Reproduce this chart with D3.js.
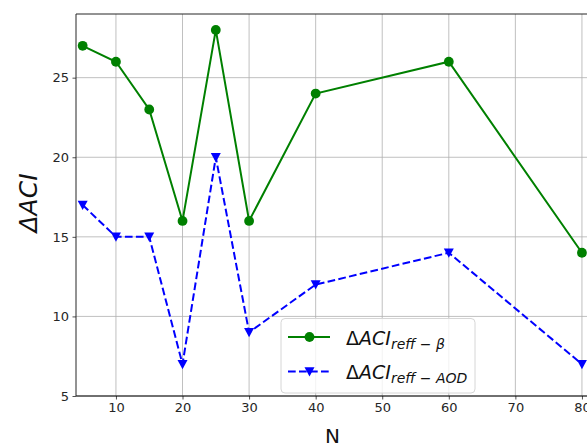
<!DOCTYPE html>
<html>
<head>
<meta charset="utf-8">
<script src="https://cdn.jsdelivr.net/npm/d3@7.9.0/dist/d3.min.js"></script>
<style>
  body { margin: 0; background: #fff; }
  svg { display: block; font-family: "DejaVu Sans", sans-serif; }
</style>
</head>
<body>
<svg id="chart" width="587" height="445"></svg>
<script>
const nValues = [5, 10, 15, 20, 25, 30, 40, 60, 80];
const aciBeta = [27, 26, 23, 16, 28, 16, 24, 26, 14];
const aciAod = [17, 15, 15, 7, 20, 9, 12, 14, 7];
const xTicks = [10, 20, 30, 40, 50, 60, 70, 80];
const yTicks = [5, 10, 15, 20, 25];

const svg = d3.select('#chart');
const plotLeft = 76, plotTop = 14, plotBottom = 396, plotRight = 588.6;

const x = d3.scaleLinear().domain([4, 81]).range([plotLeft, plotRight]);
const y = d3.scaleLinear().domain([5, 29]).range([plotBottom, plotTop]);

// grid
const grid = svg.append('g');
xTicks.forEach((t) => {
  grid.append('line')
    .attr('x1', x(t)).attr('x2', x(t))
    .attr('y1', plotTop).attr('y2', plotBottom)
    .attr('stroke', '#b0b0b0').attr('stroke-width', 0.8);
});
yTicks.forEach((t) => {
  grid.append('line')
    .attr('x1', plotLeft).attr('x2', plotRight)
    .attr('y1', y(t)).attr('y2', y(t))
    .attr('stroke', '#b0b0b0').attr('stroke-width', 0.8);
});

// axes
const xAxis = svg.append('g')
  .attr('transform', `translate(0,${plotBottom})`)
  .call(d3.axisBottom(x).tickValues(xTicks).tickSize(3.5).tickPadding(3.5));
const yAxis = svg.append('g')
  .attr('transform', `translate(${plotLeft},0)`)
  .call(d3.axisLeft(y).tickValues(yTicks).tickSize(3.5).tickPadding(3.5));
[xAxis, yAxis].forEach((a) => {
  a.select('.domain').remove();
  a.selectAll('text').attr('font-size', 13).attr('fill', '#262626')
    .attr('font-family', '"DejaVu Sans", sans-serif');
  a.selectAll('line').attr('stroke', '#262626').attr('stroke-width', 0.8);
});

// spines
svg.append('line').attr('x1', plotLeft).attr('x2', plotRight).attr('y1', plotTop).attr('y2', plotTop)
  .attr('stroke', '#262626').attr('stroke-width', 1);
svg.append('line').attr('x1', plotLeft).attr('x2', plotRight).attr('y1', plotBottom).attr('y2', plotBottom)
  .attr('stroke', '#000').attr('stroke-width', 1);
svg.append('line').attr('x1', plotLeft).attr('x2', plotLeft).attr('y1', plotTop).attr('y2', plotBottom)
  .attr('stroke', '#262626').attr('stroke-width', 1);

const line = d3.line().x((d) => x(d[0])).y((d) => y(d[1]));
const betaPts = nValues.map((n, i) => [n, aciBeta[i]]);
const aodPts = nValues.map((n, i) => [n, aciAod[i]]);

const tri = (cx, cy, s) => `M${cx - s},${cy - s * 0.85}L${cx + s},${cy - s * 0.85}L${cx},${cy + s * 1.0}Z`;

svg.append('path').attr('d', line(betaPts))
  .attr('fill', 'none').attr('stroke', 'green').attr('stroke-width', 2);
svg.selectAll('.dot').data(betaPts).join('circle')
  .attr('cx', (d) => x(d[0])).attr('cy', (d) => y(d[1])).attr('r', 4.9)
  .attr('fill', 'green');

svg.append('path').attr('d', line(aodPts))
  .attr('fill', 'none').attr('stroke', 'blue').attr('stroke-width', 2)
  .attr('stroke-dasharray', '7.7,3.3');
svg.selectAll('.tri').data(aodPts).join('path')
  .attr('d', (d) => tri(x(d[0]), y(d[1]), 5))
  .attr('fill', 'blue');

// axis labels
svg.append('text').attr('x', 332.5).attr('y', 443).attr('text-anchor', 'middle')
  .attr('font-size', 20).attr('fill', '#111').text('N');
svg.append('text').attr('transform', 'translate(37,203) rotate(-90)')
  .attr('text-anchor', 'middle').attr('font-size', 25).attr('fill', '#111')
  .attr('font-style', 'italic').text('ΔACI');

// legend
const lg = svg.append('g');
lg.append('rect').attr('x', 281).attr('y', 318.5).attr('width', 194).attr('height', 74.5)
  .attr('rx', 4).attr('fill', 'rgba(255,255,255,0.8)').attr('stroke', '#d6d6d6');
const items = [
  { sub: 'reff − β', color: 'green', dash: null, marker: 'circle', yy: 337 },
  { sub: 'reff − AOD', color: 'blue', dash: '7.7,3.3', marker: 'tri', yy: 371.5 }
];
items.forEach((it) => {
  lg.append('line').attr('x1', 288).attr('x2', 330).attr('y1', it.yy).attr('y2', it.yy)
    .attr('stroke', it.color).attr('stroke-width', 2)
    .attr('stroke-dasharray', it.dash);
  if (it.marker === 'circle') {
    lg.append('circle').attr('cx', 309.5).attr('cy', it.yy).attr('r', 4.9).attr('fill', it.color);
  } else {
    lg.append('path').attr('d', tri(309.5, it.yy, 5)).attr('fill', it.color);
  }
  const t = lg.append('text').attr('x', 346).attr('y', it.yy + 7.5)
    .attr('font-size', 19).attr('fill', '#111');
  t.append('tspan').text('Δ');
  t.append('tspan').attr('font-style', 'italic').text('ACI');
  t.append('tspan').attr('font-style', 'italic').attr('font-size', 14).attr('dy', 4).text(it.sub);
});
</script>
</body>
</html>
